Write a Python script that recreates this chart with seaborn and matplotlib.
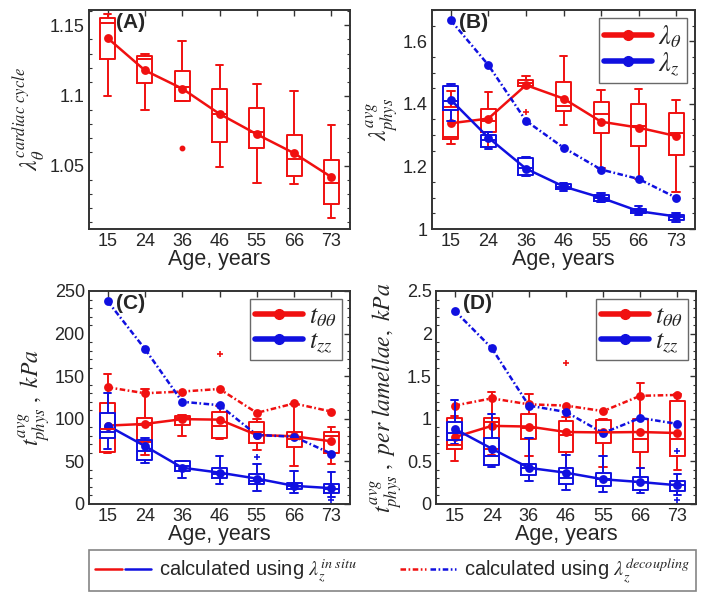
import numpy as np
import pandas as pd
import matplotlib
matplotlib.use('Agg')
import matplotlib.pyplot as plt
import seaborn as sns
from matplotlib.lines import Line2D
from matplotlib.legend_handler import HandlerTuple
from matplotlib.ticker import MultipleLocator, FormatStrFormatter

ages = ['15', '24', '36', '46', '55', '66', '73']

# box stats per age: [whisker low, q1, median, q3, whisker high]
a_theta_box = [[1.100, 1.126, 1.152, 1.155, 1.158], [1.090, 1.109, 1.126, 1.128, 1.130],
               [1.096, 1.096, 1.106, 1.1175, 1.139], [1.049, 1.067, 1.087, 1.105, 1.122],
               [1.038, 1.063, 1.074, 1.091, 1.108], [1.037, 1.043, 1.055, 1.072, 1.103],
               [1.013, 1.023, 1.038, 1.054, 1.079]]
a_theta_mean = [1.141, 1.118, 1.105, 1.087, 1.0725, 1.059, 1.042]
a_theta_out = (['36'], [1.0625])

b_theta_box = [[1.273, 1.287, 1.294, 1.390, 1.440], [1.262, 1.310, 1.345, 1.385, 1.437],
               [1.453, 1.458, 1.466, 1.476, 1.488], [1.333, 1.376, 1.394, 1.469, 1.554],
               [1.196, 1.308, 1.369, 1.407, 1.444], [1.160, 1.265, 1.330, 1.400, 1.447],
               [1.119, 1.236, 1.308, 1.370, 1.413]]
b_theta_mean = [1.338, 1.353, 1.460, 1.417, 1.343, 1.324, 1.297]
b_theta_out = (['36'], [1.374])
b_z_box = [[1.345, 1.380, 1.410, 1.458, 1.462], [1.255, 1.262, 1.285, 1.300, 1.310],
           [1.170, 1.174, 1.194, 1.226, 1.230], [1.122, 1.127, 1.135, 1.143, 1.148],
           [1.085, 1.090, 1.100, 1.110, 1.115], [1.045, 1.050, 1.057, 1.063, 1.072],
           [1.022, 1.030, 1.038, 1.045, 1.052]]
b_z_mean = [1.413, 1.292, 1.193, 1.136, 1.100, 1.057, 1.040]
b_z_decoup = [1.667, 1.524, 1.346, 1.260, 1.190, 1.160, 1.100]

c_theta_box = [[60, 61, 88, 119, 152], [58, 73, 93, 101.5, 135], [80, 93, 101, 103.5, 104],
               [76, 77, 92, 108.5, 115], [63, 72, 85, 96, 100], [44.6, 67, 76, 85, 117],
               [46.5, 60, 79.5, 85, 90]]
c_theta_mean = [92, 94, 99.6, 99, 81, 79.5, 73.6]
c_theta_out = (['46'], [176])
c_theta_decoup = [137, 130, 132, 135, 107, 118, 108.5]
c_zz_box = [[65, 77.5, 85, 106.6, 130], [48.5, 52, 62, 75.6, 77], [30, 39, 44.6, 50, 50.6],
            [24, 31, 35.7, 42.6, 56], [14.7, 23, 27, 35, 46.5], [12.4, 17.4, 21.3, 25, 38.8],
            [8.5, 12.4, 17.4, 23, 37.6]]
c_zz_mean = [92, 68, 42.6, 36.8, 29.8, 21.3, 18.6]
c_zz_out = (['55', '73'], [55, 4.6])
c_zz_decoup = [238, 182, 120, 116, 81, 79, 59]

d_theta_box = [[0.51, 0.644, 0.69, 1.01, 1.03], [0.57, 0.65, 0.966, 1.01, 1.31],
               [0.56, 0.76, 0.89, 1.06, 1.29], [0.424, 0.614, 0.814, 0.977, 1.02],
               [0.436, 0.72, 0.84, 0.985, 1.0], [0.417, 0.614, 0.765, 1.0, 1.42],
               [0.40, 0.56, 0.765, 1.21, 1.29]]
d_theta_mean = [0.784, 0.917, 0.909, 0.845, 0.84, 0.845, 0.833]
d_theta_out = (['46'], [1.66])
d_theta_decoup = [1.155, 1.24, 1.17, 1.155, 1.09, 1.27, 1.28]
d_zz_box = [[0.70, 0.75, 0.833, 0.966, 1.22], [0.436, 0.455, 0.568, 0.777, 1.06],
            [0.265, 0.34, 0.417, 0.466, 0.777], [0.16, 0.235, 0.303, 0.417, 0.576],
            [0.144, 0.21, 0.29, 0.36, 0.56], [0.13, 0.17, 0.258, 0.32, 0.424],
            [0.10, 0.152, 0.227, 0.265, 0.35]]
d_zz_mean = [0.883, 0.65, 0.424, 0.367, 0.29, 0.258, 0.22]
d_zz_out = (['73', '73'], [0.617, 0.045])
d_zz_decoup = [2.27, 1.83, 1.155, 1.08, 0.833, 1.01, 0.94]

RED = '#f01010'
BLUE = '#1010e0'
DASHDOT = (0, (4, 1.8, 1.2, 1.8))

sns.set_style('white')
plt.rcParams['font.family'] = ['Liberation Sans', 'DejaVu Sans']
plt.rcParams['mathtext.fontset'] = 'stix'
plt.rcParams['xtick.direction'] = 'in'
plt.rcParams['ytick.direction'] = 'in'
plt.rcParams['xtick.top'] = True
plt.rcParams['ytick.right'] = True
plt.rcParams['lines.scale_dashes'] = False


def to_long(box):
    rows = []
    for age, vals in zip(ages, box):
        for v in vals:
            rows.append({'age': age, 'val': v})
    return pd.DataFrame(rows)


def draw_series(ax, box, mean, color, out=None, out_marker='+', out_size=5):
    sns.boxplot(data=to_long(box), x='age', y='val', order=ages, whis=(0, 100),
                fill=False, color=color, width=0.4, showfliers=False,
                linewidth=1.4, ax=ax)
    sns.pointplot(x=ages, y=mean, order=ages, color=color, markers='o',
                  linestyles='-', markersize=5, linewidth=1.8, errorbar=None, ax=ax)
    if out is not None:
        sns.stripplot(x=out[0], y=out[1], order=ages, jitter=False, color=color,
                      marker=out_marker, size=out_size, linewidth=1.2, edgecolor=color, ax=ax)


def draw_decoup(ax, vals, color):
    sns.pointplot(x=ages, y=vals, order=ages, color=color, markers='o',
                  linestyles=DASHDOT, markersize=5, linewidth=1.8, errorbar=None, ax=ax)


def style_axis(ax, letter, ylim, major, minor, fmt, ylabel):
    ax.set_xlim(-0.5, 6.5)
    ax.set_ylim(*ylim)
    ax.yaxis.set_major_locator(MultipleLocator(major))
    ax.yaxis.set_minor_locator(MultipleLocator(minor))
    ax.yaxis.set_major_formatter(FormatStrFormatter(fmt))
    ax.tick_params(axis='both', which='major', labelsize=13, length=4, width=1,
                   color='#333333', labelcolor='#262626', pad=3)
    ax.tick_params(axis='y', which='minor', length=2, width=0.8, left=True, right=True, color='#333333')
    for s in ax.spines.values():
        s.set_linewidth(1.4)
        s.set_color('#333333')
    ax.set_xlabel('Age, years', fontsize=15.5, labelpad=-1, color='#262626')
    ax.set_ylabel(ylabel, fontsize=17, labelpad=2)
    ax.text(0.22, ylim[1] - (ylim[1] - ylim[0]) * 0.012, letter, fontsize=15,
            fontweight='bold', ha='left', va='top', color='#262626')


def panel_legend(ax, labels):
    handles = [Line2D([], [], color=RED, lw=4, marker='o', markersize=7),
               Line2D([], [], color=BLUE, lw=4, marker='o', markersize=7)]
    leg = ax.legend(handles, labels, loc='upper right', fontsize=19, handlelength=1.8,
                    handletextpad=0.25, borderpad=0.2, labelspacing=0.0,
                    frameon=True, fancybox=False, borderaxespad=0.3)
    leg.get_frame().set_edgecolor('#444444')
    leg.get_frame().set_linewidth(1.0)


fig = plt.figure(figsize=(7.03, 5.99), dpi=100)
W, H = 703, 599
axA = fig.add_axes([89 / W, 1 - 229 / H, 261 / W, 219 / H])
axB = fig.add_axes([432 / W, 1 - 229 / H, 263 / W, 219 / H])
axC = fig.add_axes([89 / W, 1 - 504 / H, 261 / W, 213 / H])
axD = fig.add_axes([436 / W, 1 - 504 / H, 260 / W, 213 / H])

# (A)
draw_series(axA, a_theta_box, a_theta_mean, RED, a_theta_out, out_marker='o', out_size=3)
style_axis(axA, '(A)', (1.005, 1.161), 0.05, 0.01, '%g',
           r'$\lambda_\theta^{cardiac\ cycle}$')

# (B)
draw_series(axB, b_theta_box, b_theta_mean, RED, b_theta_out)
draw_series(axB, b_z_box, b_z_mean, BLUE)
draw_decoup(axB, b_z_decoup, BLUE)
style_axis(axB, '(B)', (1.0, 1.70), 0.2, 0.05, '%g', r'$\lambda_{phys}^{avg}$')
panel_legend(axB, [r'$\lambda_\theta$', r'$\lambda_z$'])

# (C)
draw_series(axC, c_theta_box, c_theta_mean, RED, c_theta_out)
draw_decoup(axC, c_theta_decoup, RED)
draw_series(axC, c_zz_box, c_zz_mean, BLUE, c_zz_out)
draw_decoup(axC, c_zz_decoup, BLUE)
style_axis(axC, '(C)', (0, 250), 50, 10, '%g', r'$t_{phys}^{avg}\ ,\ kPa$')
panel_legend(axC, [r'$t_{\theta\theta}$', r'$t_{zz}$'])

# (D)
draw_series(axD, d_theta_box, d_theta_mean, RED, d_theta_out)
draw_decoup(axD, d_theta_decoup, RED)
draw_series(axD, d_zz_box, d_zz_mean, BLUE, d_zz_out)
draw_decoup(axD, d_zz_decoup, BLUE)
style_axis(axD, '(D)', (0, 2.5), 0.5, 0.1, '%g',
           r'$t_{phys}^{avg}\ ,\ per\ lamellae,\ kPa$')
panel_legend(axD, [r'$t_{\theta\theta}$', r'$t_{zz}$'])

# bottom legend
h_situ = (Line2D([], [], color=RED, lw=1.8), Line2D([], [], color=BLUE, lw=1.8))
h_dec = (Line2D([], [], color=RED, lw=1.8, ls=DASHDOT), Line2D([], [], color=BLUE, lw=1.8, ls=DASHDOT))
leg = fig.legend([h_situ, h_dec],
                 [r'calculated using $\lambda_z^{in\ situ}$',
                  r'calculated using $\lambda_z^{decoupling}$'],
                 handler_map={tuple: HandlerTuple(ndivide=None, pad=0.15)},
                 ncol=2, loc='lower left', mode='expand',
                 bbox_to_anchor=(89 / W, 1 - 591 / H, 607 / W, 37 / H),
                 fontsize=14.5, handlelength=2.8, handletextpad=0.4, columnspacing=0.6,
                 frameon=True, fancybox=False, borderpad=0.3, borderaxespad=0)
leg.get_frame().set_edgecolor('#666666')
leg.get_frame().set_linewidth(1.2)

fig.savefig('out.png', dpi=100)
